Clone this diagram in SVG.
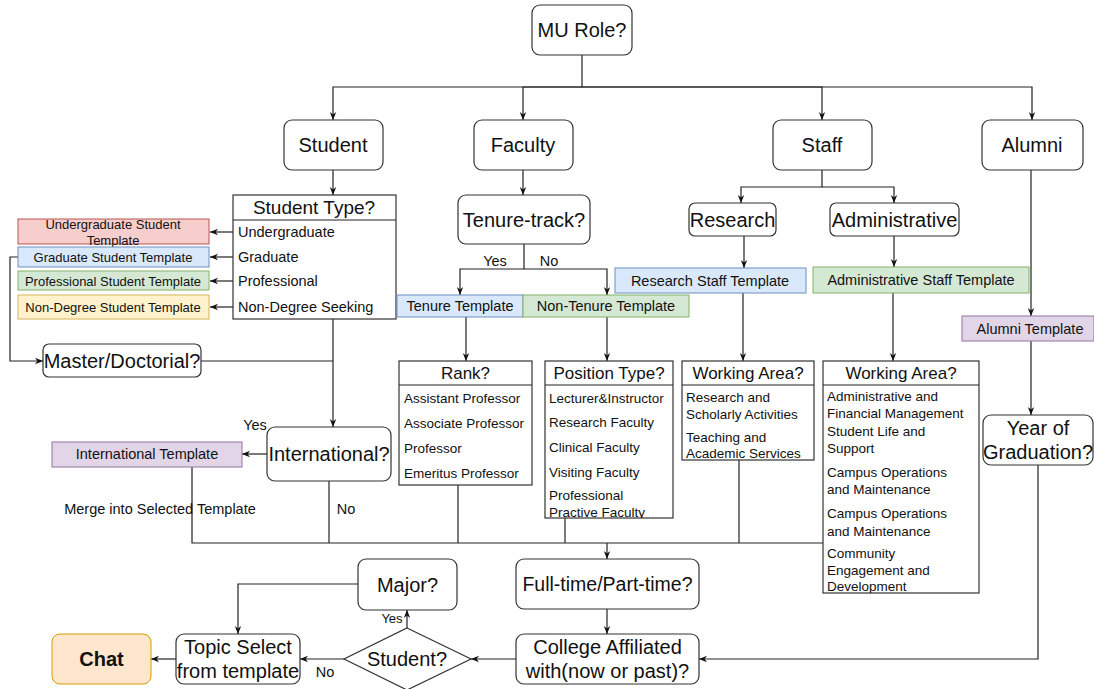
<svg xmlns="http://www.w3.org/2000/svg" width="1094" height="689" viewBox="0 0 1094 689">
<style>
text{font-family:"Liberation Sans",Arial,sans-serif;fill:#111}
.n{fill:#fff;stroke:#333;stroke-width:1.2}
.t20{font-size:20px;text-anchor:middle;dominant-baseline:central}
.hd{font-size:17px;text-anchor:middle;dominant-baseline:central}
.it{font-size:13.5px;dominant-baseline:central}
.tp{font-size:14.5px;text-anchor:middle;dominant-baseline:central}
.tp13{font-size:13px;text-anchor:middle;dominant-baseline:central}
.lb{font-size:14.5px;text-anchor:middle;dominant-baseline:central}
.red{fill:#f8cecc;stroke:#b85450}
.blue{fill:#dae8fc;stroke:#6c8ebf}
.green{fill:#d5e8d4;stroke:#82b366}
.yellow{fill:#fff2cc;stroke:#d6b656}
.purple{fill:#e1d5e7;stroke:#9673a6}
.orange{fill:#ffe6cc;stroke:#d79b00}
.c{fill:none;stroke:#222;stroke-width:1.2}
.a{marker-end:url(#arr)}
</style>
<defs>
<marker id="arr" viewBox="0 0 10 10" refX="10" refY="5" markerWidth="8" markerHeight="8" markerUnits="userSpaceOnUse" orient="auto">
<path d="M0,1 L10,5 L0,9 L3,5 Z" fill="#111"/>
</marker>
<clipPath id="clipPos"><rect x="545" y="385" width="128" height="133"/></clipPath>
<clipPath id="clipWA2"><rect x="823" y="385" width="156" height="208"/></clipPath>
</defs>

<g id="connectors">
<path class="c a" d="M582 55 V87 H333 V120"/>
<path class="c a" d="M582 87 H523 V120"/>
<path class="c a" d="M582 87 H822 V120"/>
<path class="c a" d="M582 87 H1032 V120"/>
<path class="c a" d="M333 170 V195"/>
<path class="c a" d="M233 232 H210"/>
<path class="c a" d="M233 257 H210"/>
<path class="c a" d="M233 281 H210"/>
<path class="c a" d="M233 307 H210"/>
<path class="c a" d="M18 257 H10 V361 H43"/>
<path class="c" d="M201 361 H333"/>
<path class="c a" d="M333 319 V427"/>
<path class="c a" d="M267 454 H242"/>
<path class="c" d="M192 467 V543 H823"/>
<path class="c" d="M329 481 V543"/>
<path class="c" d="M458 485 V543"/>
<path class="c" d="M565 518 V543"/>
<path class="c" d="M739 460 V543"/>
<path class="c a" d="M607 543 V559"/>
<path class="c a" d="M523 170 V195"/>
<path class="c a" d="M524 244 V269 H460 V295"/>
<path class="c a" d="M524 269 H607 V295"/>
<path class="c a" d="M466 317 V361"/>
<path class="c a" d="M607 317 V361"/>
<path class="c a" d="M822 170 V187 H741 V203"/>
<path class="c a" d="M822 187 H894 V203"/>
<path class="c a" d="M744 236 V268"/>
<path class="c a" d="M894 236 V267"/>
<path class="c a" d="M743 293 V361"/>
<path class="c a" d="M893 293 V361"/>
<path class="c a" d="M1031 170 V316"/>
<path class="c a" d="M1031 341 V415"/>
<path class="c a" d="M1038 465 V659 H699"/>
<path class="c a" d="M607 609 V634"/>
<path class="c a" d="M516 659 H471"/>
<path class="c a" d="M344 659 H300"/>
<path class="c a" d="M407 628 V610"/>
<path class="c a" d="M358 584 H238 V634"/>
<path class="c a" d="M176 659 H151"/>
<text class="lb" x="495" y="261">Yes</text>
<text class="lb" x="549" y="261">No</text>
<text class="lb" x="255" y="425">Yes</text>
<text class="lb" x="346" y="509">No</text>
<text class="lb" x="160" y="509">Merge into Selected Template</text>
<text class="lb" x="392" y="618" style="font-size:13px">Yes</text>
<text class="lb" x="325" y="672">No</text>
</g>

<g id="mu-role"><rect class="n" x="532" y="5" width="100" height="50" rx="8"/><text class="t20" x="582" y="30">MU Role?</text></g>
<g id="student"><rect class="n" x="284" y="120" width="99" height="50" rx="8"/><text class="t20" x="333" y="145">Student</text></g>
<g id="faculty"><rect class="n" x="474" y="120" width="99" height="50" rx="8"/><text class="t20" x="523" y="145">Faculty</text></g>
<g id="staff"><rect class="n" x="773" y="120" width="99" height="50" rx="8"/><text class="t20" x="822" y="145">Staff</text></g>
<g id="alumni"><rect class="n" x="982" y="120" width="101" height="50" rx="8"/><text class="t20" x="1032" y="145">Alumni</text></g>

<g id="student-type">
<rect class="n" x="233" y="195" width="163" height="124"/>
<line class="c" x1="233" y1="220" x2="396" y2="220"/>
<text class="hd" x="314" y="207.5" style="font-size:19px">Student Type?</text>
<text class="it" x="238" y="232" style="font-size:14.5px">Undergraduate</text>
<text class="it" x="238" y="257" style="font-size:14.5px">Graduate</text>
<text class="it" x="238" y="281" style="font-size:14.5px">Professional</text>
<text class="it" x="238" y="307" style="font-size:14.5px">Non-Degree Seeking</text>
</g>

<g id="ug-template"><rect class="red" x="18" y="219" width="191" height="25"/><text class="tp13" x="113" y="224.5">Undergraduate Student</text><text class="tp13" x="113" y="240.5">Template</text></g>
<g id="grad-template"><rect class="blue" x="18" y="247" width="191" height="20"/><text class="tp13" x="113" y="257">Graduate Student Template</text></g>
<g id="prof-template"><rect class="green" x="18" y="271" width="191" height="19"/><text class="tp13" x="113" y="281">Professional Student Template</text></g>
<g id="nondeg-template"><rect class="yellow" x="18" y="295" width="191" height="24"/><text class="tp13" x="113" y="307">Non-Degree Student Template</text></g>

<g id="master-doctorial"><rect class="n" x="43" y="344" width="158" height="33" rx="6"/><text class="t20" x="122" y="361">Master/Doctorial?</text></g>
<g id="international"><rect class="n" x="267" y="427" width="124" height="54" rx="8"/><text class="t20" x="329" y="454">International?</text></g>
<g id="international-template"><rect class="purple" x="52" y="442" width="190" height="25"/><text class="tp" x="147" y="454">International Template</text></g>

<g id="tenure-track"><rect class="n" x="458" y="195" width="132" height="49" rx="8"/><text class="t20" x="524" y="220">Tenure-track?</text></g>
<g id="tenure-template"><rect class="blue" x="397" y="295" width="126" height="22"/><text class="tp" x="460" y="306">Tenure Template</text></g>
<g id="non-tenure-template"><rect class="green" x="523" y="295" width="166" height="22"/><text class="tp" x="606" y="306">Non-Tenure Template</text></g>

<g id="rank">
<rect class="n" x="399" y="361" width="133" height="124"/>
<line class="c" x1="399" y1="385" x2="532" y2="385"/>
<text class="hd" x="465.5" y="373">Rank?</text>
<text class="it" x="404" y="398">Assistant Professor</text>
<text class="it" x="404" y="423">Associate Professor</text>
<text class="it" x="404" y="448">Professor</text>
<text class="it" x="404" y="473">Emeritus Professor</text>
</g>

<g id="position-type">
<rect class="n" x="545" y="361" width="128" height="157"/>
<line class="c" x1="545" y1="385" x2="673" y2="385"/>
<text class="hd" x="609" y="373">Position Type?</text>
<g clip-path="url(#clipPos)">
<text class="it" x="549" y="398">Lecturer&amp;Instructor</text>
<text class="it" x="549" y="422">Research Faculty</text>
<text class="it" x="549" y="447">Clinical Faculty</text>
<text class="it" x="549" y="472">Visiting Faculty</text>
<text class="it" x="549" y="495">Professional</text>
<text class="it" x="549" y="512">Practive Faculty</text>
</g>
</g>

<g id="research"><rect class="n" x="689" y="203" width="87" height="33" rx="6"/><text class="t20" x="732.5" y="219.5">Research</text></g>
<g id="administrative"><rect class="n" x="830" y="203" width="129" height="33" rx="6"/><text class="t20" x="894.5" y="219.5">Administrative</text></g>
<g id="research-staff-template"><rect class="blue" x="615" y="268" width="191" height="25"/><text class="tp" x="710" y="280.5">Research Staff Template</text></g>
<g id="admin-staff-template"><rect class="green" x="813" y="267" width="216" height="26"/><text class="tp" x="921" y="280">Administrative Staff Template</text></g>

<g id="working-area-research">
<rect class="n" x="682" y="361" width="132" height="99"/>
<line class="c" x1="682" y1="385" x2="814" y2="385"/>
<text class="hd" x="748" y="373">Working Area?</text>
<text class="it" x="686" y="397">Research and</text>
<text class="it" x="686" y="414">Scholarly Activities</text>
<text class="it" x="686" y="437">Teaching and</text>
<text class="it" x="686" y="453">Academic Services</text>
</g>

<g id="working-area-admin">
<rect class="n" x="823" y="361" width="156" height="232"/>
<line class="c" x1="823" y1="385" x2="979" y2="385"/>
<text class="hd" x="901" y="373">Working Area?</text>
<g clip-path="url(#clipWA2)">
<text class="it" x="827" y="396">Administrative and</text>
<text class="it" x="827" y="413">Financial Management</text>
<text class="it" x="827" y="431">Student Life and</text>
<text class="it" x="827" y="448">Support</text>
<text class="it" x="827" y="472">Campus Operations</text>
<text class="it" x="827" y="489">and Maintenance</text>
<text class="it" x="827" y="513">Campus Operations</text>
<text class="it" x="827" y="531">and Maintenance</text>
<text class="it" x="827" y="553">Community</text>
<text class="it" x="827" y="570">Engagement and</text>
<text class="it" x="827" y="586">Development</text>
</g>
</g>

<g id="alumni-template"><rect class="purple" x="962" y="316" width="132" height="25"/><text class="tp" x="1030" y="328.5">Alumni Template</text></g>
<g id="year-of-graduation"><rect class="n" x="983" y="415" width="110" height="50" rx="8"/><text class="t20" x="1038" y="428">Year of</text><text class="t20" x="1038" y="452">Graduation?</text></g>

<g id="full-part-time"><rect class="n" x="516" y="559" width="183" height="50" rx="8"/><text class="t20" x="607.5" y="584" style="font-size:19.5px">Full-time/Part-time?</text></g>
<g id="college-affiliated"><rect class="n" x="516" y="634" width="183" height="50" rx="8"/><text class="t20" x="607.5" y="647">College Affiliated</text><text class="t20" x="607.5" y="671">with(now or past)?</text></g>
<g id="student-q"><path class="n" d="M407 628 L471 659 L407 690 L344 659 Z"/><text class="t20" x="407" y="659">Student?</text></g>
<g id="major"><rect class="n" x="358" y="559" width="99" height="51" rx="8"/><text class="t20" x="407.5" y="584.5">Major?</text></g>
<g id="topic-select"><rect class="n" x="176" y="634" width="124" height="50" rx="8"/><text class="t20" x="238" y="647">Topic Select</text><text class="t20" x="238" y="671">from template</text></g>
<g id="chat"><rect class="orange" x="52" y="634" width="99" height="50" rx="8"/><text class="t20" x="101.5" y="659" style="font-weight:bold">Chat</text></g>
</svg>
